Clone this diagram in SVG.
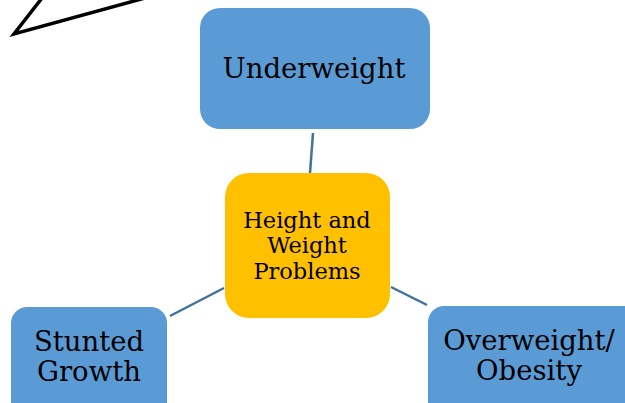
<svg xmlns="http://www.w3.org/2000/svg" width="625" height="403" viewBox="0 0 625 403">
<style>
.blue{fill:#5B9BD5;}
.gold{fill:#FFC000;}
.t{font-family:"DejaVu Serif","Liberation Serif",serif;fill:#000;text-anchor:middle;}
.big{font-size:27.5px;}
.mid{font-size:22.5px;}
.conn{stroke:#41719C;stroke-width:2.5;fill:none;}
</style>
<rect width="625" height="403" fill="#fff"/>
<polyline points="42,-2 14,34 145,-2" fill="none" stroke="#000" stroke-width="3.5" stroke-linejoin="miter"/>
<g id="connectors">
<line class="conn" x1="313" y1="133" x2="310" y2="173"/>
<line class="conn" x1="170" y1="316" x2="224" y2="288"/>
<line class="conn" x1="391" y1="287" x2="427" y2="305"/>
</g>
<g id="underweight">
<rect class="blue" x="200" y="8" width="230" height="121" rx="20"/>
<text class="t big" x="314" y="78">Underweight</text>
</g>
<g id="center">
<rect class="gold" x="225" y="173" width="165" height="145" rx="24"/>
<text class="t mid" x="307" y="228">Height and</text>
<text class="t mid" x="307" y="253">Weight</text>
<text class="t mid" x="307" y="279">Problems</text>
</g>
<g id="stunted">
<rect class="blue" x="11" y="307" width="156" height="120" rx="16"/>
<text class="t big" x="89" y="351">Stunted</text>
<text class="t big" x="89" y="381">Growth</text>
</g>
<g id="overweight">
<rect class="blue" x="428" y="306" width="220" height="120" rx="16"/>
<text class="t big" x="529" y="350">Overweight/</text>
<text class="t big" x="529" y="380">Obesity</text>
</g>
</svg>
